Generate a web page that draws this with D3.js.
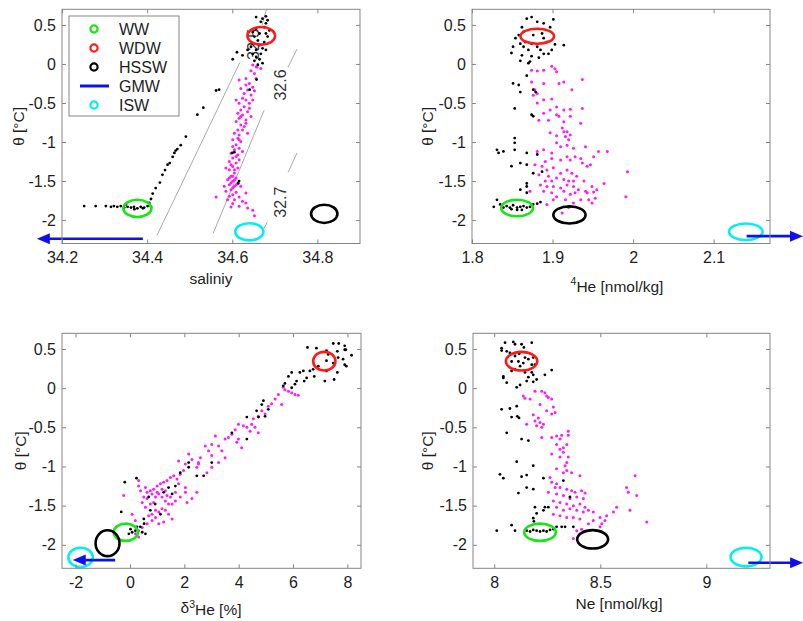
<!DOCTYPE html>
<html>
<head>
<meta charset="utf-8">
<script src="https://cdn.jsdelivr.net/npm/d3@7"></script>
<style>
  html, body { margin: 0; padding: 0; background: #fff; }
  svg { display: block; }
</style>
</head>
<body>
<svg id="fig" width="803" height="621"></svg>
<script>
// ---- shared potential temperature axis ----
const thetaDomain = [-2.3, 0.7];
const thetaTicks = [-2, -1.5, -1, -0.5, 0, 0.5];

// ---- water mass legend ----
const legendNames = ["WW", "WDW", "HSSW", "GMW", "ISW"];
const massColors = { WW: "#16e616", WDW: "#ff1a1a", HSSW: "#000000", GMW: "#1010ee", ISW: "#00f0f0" };

// ---- panel 1: salinity ----
const salDomain = [34.2, 34.9];
const salTicks = [34.2, 34.4, 34.6, 34.8];
const salBlack = [
  [34.252,-1.82],[34.279,-1.82],[34.303,-1.82],[34.315,-1.83],[34.322,-1.82],[34.330,-1.83],[34.338,-1.82],
  [34.346,-1.84],[34.354,-1.83],[34.362,-1.84],[34.369,-1.83],[34.377,-1.85],[34.385,-1.83],[34.393,-1.84],
  [34.401,-1.82],[34.409,-1.83],[34.350,-1.80],[34.370,-1.86],[34.390,-1.85],[34.405,-1.78],
  [34.409,-1.73],[34.413,-1.66],[34.420,-1.59],[34.430,-1.52],[34.436,-1.42],[34.442,-1.36],[34.448,-1.29],
  [34.453,-1.27],[34.460,-1.19],[34.464,-1.14],[34.467,-1.11],[34.471,-1.09],[34.479,-1.04],[34.491,-0.93],
  [34.518,-0.65],[34.532,-0.56],[34.562,-0.34],[34.569,-0.33],[34.601,0.06],[34.611,0.15],[34.624,0.11],[34.636,0.18],
  [34.656,0.60],[34.671,0.58],[34.679,0.61],[34.667,0.54],[34.679,0.52],[34.675,0.47],[34.656,0.45],[34.648,0.41],
  [34.664,0.39],[34.679,0.39],[34.683,0.35],[34.652,0.35],[34.660,0.30],[34.675,0.28],[34.648,0.26],[34.664,0.24],
  [34.671,0.20],[34.656,0.18],[34.644,0.22],[34.667,0.13],[34.656,0.09],[34.664,0.06],[34.652,0.04],[34.671,0.01],
  [34.660,-0.01],[34.648,0.13],[34.679,0.18],[34.687,0.43],[34.683,0.56],
  [34.605,-1.13],[34.616,-1.50],[34.614,-1.53],[34.641,-0.33],[34.657,-0.20],[34.600,-1.14]
];
const salMagenta = [
  [34.648,-0.015],[34.656,-0.036],[34.667,-0.057],[34.644,-0.087],[34.652,-0.121],[34.632,-0.185],[34.656,-0.185],
  [34.616,-0.206],[34.640,-0.249],[34.648,-0.300],[34.636,-0.334],[34.652,-0.343],[34.628,-0.377],[34.644,-0.398],
  [34.624,-0.440],[34.609,-0.462],[34.632,-0.462],[34.640,-0.504],[34.616,-0.504],[34.628,-0.547],[34.620,-0.589],
  [34.636,-0.611],[34.613,-0.632],[34.624,-0.653],[34.616,-0.696],[34.632,-0.717],[34.609,-0.738],[34.620,-0.781],
  [34.628,-0.802],[34.613,-0.845],[34.605,-0.887],[34.616,-0.909],[34.613,-0.951],[34.601,-0.972],[34.620,-0.994],
  [34.609,-1.036],[34.616,-1.079],[34.605,-1.100],[34.597,-1.143],[34.613,-1.164],[34.601,-1.206],[34.593,-1.249],
  [34.609,-1.270],[34.601,-1.313],[34.613,-1.334],[34.593,-1.355],[34.605,-1.398],[34.597,-1.440],[34.609,-1.462],
  [34.589,-1.483],[34.601,-1.504],[34.613,-1.526],[34.593,-1.547],[34.605,-1.568],[34.597,-1.611],[34.585,-1.632],
  [34.609,-1.645],[34.601,-1.674],[34.593,-1.696],[34.616,-1.704],[34.605,-1.738],[34.562,-1.704],[34.624,-1.760],
  [34.632,-1.781],[34.601,-1.789],[34.616,-1.823],[34.636,-1.845],[34.648,-1.874],[34.652,-1.943],[34.597,-1.832],
  [34.589,-1.738],[34.581,-1.568],[34.620,-1.568],[34.632,-1.653],[34.601,-1.440],[34.585,-1.334],[34.616,-1.228],
  [34.624,-1.121],[34.636,-0.887],[34.644,-0.674],[34.640,-0.568],[34.648,-0.462],[34.632,-0.270],[34.620,-0.313],
  [34.605,-1.483],[34.597,-1.526],[34.609,-1.547],[34.601,-1.590],[34.593,-1.462],[34.605,-1.355],[34.597,-1.290],
  [34.609,-1.185],[34.601,-1.057],[34.616,-0.972],[34.624,-0.845],[34.632,-0.760],[34.620,-0.674],[34.658,-0.040]
];
// end members: [name, x, theta, x-radius, theta-radius]
const salEnds = [
  ["WW", 34.377, -1.85, 0.033, 0.11],
  ["WDW", 34.668, 0.36, 0.0325, 0.113],
  ["HSSW", 34.816, -1.92, 0.031, 0.117],
  ["ISW", 34.640, -2.15, 0.033, 0.11]
];
const salArrow = [34.39, 34.141, -2.24];
// isopycnal segments (salinity, theta) and their labels
const isoSegments = [
  [[34.423,-2.197],[34.618,0.021]],
  [[34.670,0.50],[34.681,0.717]],
  [[34.555,-2.17],[34.675,-0.592]],
  [[34.731,-0.04],[34.752,0.19]],
  [[34.672,-2.13],[34.682,-2.03]],
  [[34.731,-1.39],[34.752,-1.14]]
];
const isoLabels = [["32.5", 34.649, 0.25], ["32.6", 34.714, -0.27], ["32.7", 34.714, -1.77]];

// ---- panel 2: helium-4 ----
const heDomain = [1.8, 2.17];
const heTicks = [1.8, 1.9, 2, 2.1];
const heBlack = [
  [1.868,0.58],[1.874,0.60],[1.881,0.54],[1.889,0.52],[1.901,0.57],[1.897,0.47],[1.862,0.47],[1.864,0.41],
  [1.858,0.37],[1.876,0.37],[1.887,0.39],[1.889,0.33],[1.854,0.33],[1.860,0.26],[1.866,0.28],[1.874,0.26],
  [1.881,0.22],[1.893,0.28],[1.903,0.25],[1.914,0.24],[1.851,0.22],[1.864,0.22],[1.870,0.18],[1.885,0.18],
  [1.889,0.13],[1.895,0.13],[1.899,0.18],[1.849,0.14],[1.862,0.11],[1.874,0.10],[1.883,0.08],[1.872,0.03],
  [1.870,0.01],[1.860,0.04],
  [1.868,-0.15],[1.858,-0.27],[1.851,-0.25],[1.860,-0.36],[1.876,-0.33],[1.879,-0.36],[1.853,-0.57],[1.874,-0.65],
  [1.876,-0.67],[1.853,-0.95],[1.853,-1.01],[1.853,-1.10],[1.831,-1.10],[1.833,-1.14],[1.839,-1.12],[1.868,-1.14],
  [1.881,-1.16],[1.860,-1.27],[1.868,-1.29],[1.849,-1.31],[1.876,-1.40],[1.887,-1.38],[1.868,-1.53],[1.868,-1.57],
  [1.860,-1.61],[1.868,-1.65],[1.831,-1.74],
  [1.827,-1.83],[1.835,-1.80],[1.839,-1.84],[1.843,-1.82],[1.847,-1.84],[1.851,-1.81],[1.856,-1.84],[1.860,-1.83],
  [1.864,-1.82],[1.868,-1.84],[1.872,-1.83],[1.876,-1.80],[1.881,-1.79],[1.885,-1.77],[1.856,-1.87],[1.862,-1.87],
  [1.849,-1.86]
];
const heMagenta = [
  [1.874,-0.08],[1.881,-0.09],[1.889,-0.08],[1.899,-0.03],[1.903,-0.06],[1.905,-0.10],[1.874,-0.23],[1.889,-0.25],
  [1.908,-0.25],[1.914,-0.23],[1.924,-0.33],[1.937,-0.20],[1.878,-0.33],[1.881,-0.38],[1.876,-0.40],[1.889,-0.46],
  [1.899,-0.45],[1.881,-0.50],[1.897,-0.59],[1.905,-0.55],[1.914,-0.59],[1.922,-0.58],[1.937,-0.57],[1.889,-0.63],
  [1.905,-0.65],[1.908,-0.67],[1.922,-0.67],[1.883,-0.72],[1.895,-0.72],[1.914,-0.74],[1.912,-0.82],[1.935,-0.76],
  [1.897,-0.88],[1.914,-0.87],[1.918,-0.87],[1.916,-0.93],[1.922,-0.91],[1.905,-0.92],[1.918,-1.04],[1.910,-1.06],
  [1.920,-0.97],[1.881,-1.12],[1.889,-1.10],[1.899,-1.14],[1.905,-1.01],[1.918,-1.19],[1.926,-1.08],[1.941,-1.06],
  [1.935,-1.21],[1.957,-1.12],[1.951,-1.19],[1.968,-1.12],[1.928,-1.19],[1.922,-1.23],[1.910,-1.23],[1.899,-1.21],
  [1.891,-1.25],[1.887,-1.31],[1.878,-1.29],[1.893,-1.36],[1.901,-1.33],[1.910,-1.40],[1.918,-1.36],[1.924,-1.40],
  [1.930,-1.44],[1.937,-1.27],[1.943,-1.31],[1.947,-1.29],[1.895,-1.44],[1.899,-1.50],[1.905,-1.46],[1.914,-1.48],
  [1.920,-1.50],[1.926,-1.50],[1.891,-1.50],[1.885,-1.55],[1.893,-1.57],[1.901,-1.57],[1.910,-1.59],[1.918,-1.55],
  [1.926,-1.57],[1.932,-1.61],[1.939,-1.50],[1.949,-1.57],[1.964,-1.53],[1.955,-1.61],[1.941,-1.63],[1.889,-1.63],
  [1.899,-1.65],[1.905,-1.70],[1.914,-1.63],[1.922,-1.67],[1.928,-1.65],[1.943,-1.65],[1.951,-1.64],[1.945,-1.74],
  [1.953,-1.72],[1.901,-1.74],[1.916,-1.74],[1.926,-1.78],[1.935,-1.74],[1.949,-1.78],[1.993,-1.38],[1.991,-1.70],
  [1.920,-1.84],[1.912,-1.91],[1.872,-1.63],[1.883,-1.42],[1.893,-1.80]
];
const heEnds = [
  ["WW", 1.856, -1.845, 0.0197, 0.106],
  ["WDW", 1.881, 0.355, 0.0208, 0.096],
  ["HSSW", 1.921, -1.934, 0.020, 0.11],
  ["ISW", 2.140, -2.15, 0.0208, 0.106]
];
const heArrow = [2.141, 2.211, -2.206];

// ---- panel 3: delta helium-3 ----
const d3HeDomain = [-2.5, 8.5];
const d3HeTicks = [-2, 0, 2, 4, 6, 8];
const d3HeBlack = [
  [6.53,0.52],[7.48,0.57],[7.68,0.57],[7.90,0.54],[7.94,0.49],[8.15,0.42],[7.63,0.47],[7.29,0.43],[7.23,0.35],
  [7.48,0.32],[7.66,0.39],[7.84,0.37],[7.96,0.28],[7.90,0.30],[7.63,0.20],[7.51,0.11],[7.23,0.22],[7.17,0.09],
  [6.93,0.28],[6.74,0.24],[6.62,0.22],[6.78,0.15],[6.50,0.13],[6.38,0.22],[6.25,0.20],[6.41,0.09],[6.13,0.09],
  [6.07,0.05],[5.95,0.005],[5.70,0.06],[5.64,0.03],[5.83,0.15],[5.95,0.20],[7.90,0.49],[6.86,0.51],[7.23,0.48],
  [4.91,-0.16],[4.85,-0.21],[5.09,-0.27],[4.66,-0.29],[4.97,-0.36],[4.73,-0.37],[4.30,-0.37],[4.30,-0.65],
  [3.75,-0.57],[3.01,-0.95],[2.71,-1.12],[2.46,-1.12],[2.16,-1.01],[2.16,-0.95],[1.85,-1.08],[1.67,-1.25],
  [1.55,-1.35],[1.42,-1.27],[1.24,-1.33],[1.12,-1.61],[0.93,-1.48],[0.75,-1.56],[0.69,-1.39],[0.51,-1.67],
  [0.26,-1.77],[0.20,-1.82],[0.45,-1.84],[0.57,-1.86],[0.02,-1.80],[0.38,-1.77],[-0.19,-1.20],[0.24,-1.15],
  [-0.32,-1.58],[0.52,-1.73],[-0.04,-1.86],[0.08,-1.84]
];
const d3HeMagenta = [
  [5.64,0.01],[5.83,-0.04],[5.95,-0.06],[6.07,-0.08],[6.19,-0.09],[5.70,-0.02],[5.46,-0.08],[5.34,-0.14],
  [5.58,-0.21],[5.21,-0.20],[5.09,-0.23],[4.97,-0.33],[4.85,-0.29],[4.72,-0.36],[4.54,-0.39],[4.48,-0.46],
  [4.60,-0.50],[4.72,-0.57],[4.42,-0.55],[4.30,-0.50],[4.17,-0.48],[3.99,-0.46],[3.87,-0.53],[3.75,-0.59],
  [3.99,-0.65],[4.11,-0.76],[3.93,-0.69],[3.62,-0.63],[3.50,-0.65],[3.14,-0.61],[3.01,-0.72],[3.26,-0.74],
  [3.38,-0.80],[3.50,-0.89],[3.01,-0.86],[2.89,-0.80],[2.77,-0.74],[2.59,-0.89],[2.52,-0.97],[2.46,-1.01],
  [2.28,-0.91],[2.16,-0.84],[2.04,-0.97],[1.97,-1.05],[1.79,-0.93],[1.85,-1.10],[1.73,-1.16],[1.61,-1.12],
  [1.49,-1.14],[1.36,-1.18],[1.24,-1.20],[1.12,-1.22],[1.00,-1.25],[0.87,-1.29],[0.75,-1.31],[0.63,-1.33],
  [0.57,-1.27],[0.32,-1.18],[0.32,-1.25],[0.39,-1.31],[0.51,-1.39],[0.63,-1.41],[0.81,-1.35],[0.94,-1.39],
  [1.06,-1.35],[1.18,-1.39],[1.30,-1.44],[1.42,-1.48],[1.55,-1.48],[1.67,-1.44],[1.85,-1.39],[2.10,-1.46],
  [2.28,-1.41],[2.46,-1.33],[2.04,-1.27],[1.79,-1.22],[1.30,-1.31],[0.94,-1.56],[0.81,-1.61],[0.69,-1.63],
  [0.57,-1.52],[0.94,-1.65],[1.06,-1.58],[1.18,-1.54],[1.30,-1.56],[1.42,-1.61],[1.55,-1.67],[1.24,-1.71],
  [1.06,-1.73],[0.81,-1.69],[0.63,-1.73],[0.45,-1.78],[0.32,-1.82],[0.20,-1.86],[0.32,-1.90],[-0.23,-1.37],
  [0.08,-1.61],[0.20,-1.69],[1.49,-1.39],[1.67,-1.33],[1.18,-1.29],[3.01,-1.01],[3.26,-0.95],[2.52,-0.95],
  [2.83,-1.08],[0.75,-1.48],[0.87,-1.46],[1.36,-1.37],[1.00,-1.33],[0.45,-1.46],[2.04,-1.33]
];
const d3HeEnds = [
  ["WW", -0.153, -1.84, 0.446, 0.11],
  ["WDW", 7.15, 0.344, 0.41, 0.119],
  ["HSSW", -0.825, -1.98, 0.44, 0.165],
  ["ISW", -1.816, -2.16, 0.45, 0.123]
];
const d3HeArrow = [-0.544, -2.105, -2.195];

// ---- panel 4: neon ----
const neDomain = [7.9, 9.3];
const neTicks = [8, 8.5, 9];
const neBlack = [
  [8.035,0.51],[8.051,0.58],[8.090,0.59],[8.098,0.56],[8.129,0.56],[8.140,0.52],[8.177,0.58],[8.035,0.48],
  [8.059,0.47],[8.074,0.45],[8.098,0.41],[8.118,0.44],[8.145,0.39],[8.161,0.37],[8.184,0.39],[8.082,0.34],
  [8.114,0.34],[8.137,0.32],[8.177,0.30],[8.192,0.30],[8.098,0.24],[8.122,0.28],[8.082,0.22],[8.043,0.15],
  [8.145,0.20],[8.177,0.20],[8.184,0.17],[8.161,0.14],[8.200,0.11],[8.184,0.08],[8.153,0.09],[8.122,0.04],
  [8.106,0.01],[8.271,0.23],[8.239,0.17],[8.059,0.07],[8.043,0.13],
  [8.074,-0.26],[8.035,-0.27],[8.106,-0.23],[8.082,-0.37],[8.109,-0.36],[8.117,-0.38],[8.059,-0.57],[8.129,-0.65],
  [8.161,-0.67],[8.106,-0.94],[8.184,-0.99],[8.027,-1.10],[8.043,-1.15],[8.129,-1.13],[8.153,-1.11],[8.232,-1.15],
  [8.326,-1.18],[8.153,-1.27],[8.184,-1.29],[8.114,-1.34],[8.357,-1.39],[8.192,-1.52],[8.239,-1.52],[8.200,-1.60],
  [8.232,-1.56],[8.255,-1.52],[8.184,-1.66],[8.187,-1.70],
  [8.012,-1.82],[8.082,-1.75],[8.098,-1.82],[8.153,-1.82],[8.169,-1.83],[8.184,-1.81],[8.200,-1.82],[8.216,-1.83],
  [8.232,-1.82],[8.247,-1.83],[8.263,-1.81],[8.279,-1.80],[8.294,-1.77],[8.318,-1.77],[8.334,-1.77],[8.373,-1.77]
];
const neMagenta = [
  [8.137,-0.10],[8.145,-0.13],[8.169,-0.14],[8.192,-0.04],[8.224,-0.04],[8.239,-0.06],[8.247,-0.10],[8.271,-0.14],
  [8.255,-0.12],[8.216,-0.21],[8.279,-0.24],[8.247,-0.29],[8.271,-0.33],[8.287,-0.31],[8.184,-0.34],[8.208,-0.38],
  [8.192,-0.42],[8.216,-0.44],[8.232,-0.46],[8.200,-0.48],[8.224,-0.50],[8.153,-0.46],[8.224,-0.63],[8.271,-0.63],
  [8.294,-0.61],[8.318,-0.60],[8.310,-0.65],[8.349,-0.55],[8.349,-0.60],[8.342,-0.72],[8.326,-0.76],[8.294,-0.72],
  [8.310,-0.78],[8.271,-0.84],[8.326,-0.82],[8.310,-0.88],[8.349,-0.88],[8.342,-0.95],[8.334,-0.99],[8.294,-1.03],
  [8.326,-1.08],[8.342,-1.05],[8.365,-1.08],[8.404,-1.12],[8.294,-1.22],[8.263,-1.14],[8.271,-1.20],[8.287,-1.27],
  [8.310,-1.27],[8.342,-1.29],[8.365,-1.31],[8.381,-1.33],[8.412,-1.31],[8.428,-1.34],[8.255,-1.33],[8.294,-1.35],
  [8.326,-1.37],[8.357,-1.41],[8.389,-1.39],[8.420,-1.41],[8.279,-1.44],[8.310,-1.46],[8.342,-1.48],[8.373,-1.50],
  [8.404,-1.48],[8.428,-1.52],[8.294,-1.52],[8.326,-1.56],[8.357,-1.54],[8.389,-1.56],[8.420,-1.58],[8.444,-1.56],
  [8.467,-1.58],[8.499,-1.65],[8.530,-1.63],[8.522,-1.69],[8.507,-1.73],[8.444,-1.73],[8.404,-1.67],[8.373,-1.65],
  [8.310,-1.63],[8.279,-1.61],[8.342,-1.65],[8.467,-1.69],[8.499,-1.77],[8.577,-1.52],[8.562,-1.58],[8.632,-1.33],
  [8.672,-1.37],[8.664,-1.12],[8.624,-1.27],[8.640,-1.56],[8.719,-1.71],[8.373,-1.92],[8.389,-1.82],[8.412,-1.80]
];
const neEnds = [
  ["WW", 8.216, -1.84, 0.0746, 0.11],
  ["WDW", 8.129, 0.344, 0.074, 0.119],
  ["HSSW", 8.464, -1.93, 0.073, 0.117],
  ["ISW", 9.187, -2.156, 0.073, 0.119]
];
const neArrow = [9.198, 9.456, -2.23];

// ---- drawing ----
const FONT = "'Liberation Sans', Arial, Helvetica, sans-serif";
const svg = d3.select("#fig");

const panels = [
  { id: "p1", left: 62, top: 9.3, width: 298, height: 234.2, xDomain: salDomain, xTicks: salTicks,
    black: salBlack, magenta: salMagenta, ends: salEnds, arrow: salArrow,
    xLabel: [["saliniy"]], xLabelPos: [211, 284], yLabelX: 18 },
  { id: "p2", left: 472, top: 9.3, width: 298, height: 234.2, xDomain: heDomain, xTicks: heTicks,
    black: heBlack, magenta: heMagenta, ends: heEnds, arrow: heArrow,
    xLabel: [["4", "sup"], ["He [nmol/kg]"]], xLabelPos: [617, 290], yLabelX: 427 },
  { id: "p3", left: 62, top: 333.3, width: 299, height: 235, xDomain: d3HeDomain, xTicks: d3HeTicks,
    black: d3HeBlack, magenta: d3HeMagenta, ends: d3HeEnds, arrow: d3HeArrow,
    xLabel: [["δ"], ["3", "sup"], ["He [%]"]], xLabelPos: [211, 613], yLabelX: 20 },
  { id: "p4", left: 473, top: 333.3, width: 297, height: 235, xDomain: neDomain, xTicks: neTicks,
    black: neBlack, magenta: neMagenta, ends: neEnds, arrow: neArrow,
    xLabel: [["Ne [nmol/kg]"]], xLabelPos: [619, 609], yLabelX: 427 }
];

const defs = svg.append("defs");
const AXIS_GRAY = "#858585";
const TEXT_COL = "#1e1e1e";
const TICK_FS = 16;
const LABEL_FS = 15.5;

function styleAxis(g, showText) {
  g.select(".domain").remove();
  g.selectAll(".tick line").attr("stroke", AXIS_GRAY).attr("stroke-width", 1);
  if (showText) {
    g.selectAll(".tick text").attr("fill", TEXT_COL).style("font-family", FONT).style("font-size", TICK_FS + "px");
  } else {
    g.selectAll(".tick text").remove();
  }
}

function drawArrow(g, x1, x2, yv, color) {
  const dir = Math.sign(x2 - x1);
  const headLen = 13, headHalf = 5.5;
  g.append("line")
    .attr("x1", x1).attr("x2", x2 - dir * headLen * 0.8).attr("y1", yv).attr("y2", yv)
    .attr("stroke", color).attr("stroke-width", 2.6);
  g.append("path")
    .attr("d", `M${x2},${yv} L${x2 - dir * headLen},${yv - headHalf} L${x2 - dir * headLen},${yv + headHalf} Z`)
    .attr("fill", color);
}

panels.forEach(p => {
  const x = d3.scaleLinear().domain(p.xDomain).range([p.left, p.left + p.width]);
  const y = d3.scaleLinear().domain(thetaDomain).range([p.top + p.height, p.top]);
  const g = svg.append("g").attr("class", p.id);

  defs.append("clipPath").attr("id", "clip-" + p.id)
    .append("rect").attr("x", p.left).attr("y", p.top).attr("width", p.width).attr("height", p.height);
  const inner = g.append("g").attr("clip-path", `url(#clip-${p.id})`);

  // density contours only on the salinity panel
  if (p.id === "p1") {
    const line = d3.line().x(d => x(d[0])).y(d => y(d[1]));
    inner.selectAll("path.iso").data(isoSegments).join("path")
      .attr("class", "iso").attr("d", line)
      .attr("fill", "none").attr("stroke", "#a0a0a0").attr("stroke-width", 0.9);
    inner.selectAll("text.iso").data(isoLabels).join("text")
      .attr("class", "iso")
      .attr("transform", d => `translate(${x(d[1])},${y(d[2])}) rotate(-90)`)
      .attr("text-anchor", "middle").attr("dominant-baseline", "central")
      .attr("fill", "#333").style("font-family", FONT).style("font-size", "16px")
      .text(d => d[0]);
  }

  inner.selectAll("circle.m").data(p.magenta).join("circle")
    .attr("class", "m").attr("cx", d => x(d[0])).attr("cy", d => y(d[1]))
    .attr("r", 1.5).attr("fill", "#ff1aff");
  inner.selectAll("circle.k").data(p.black).join("circle")
    .attr("class", "k").attr("cx", d => x(d[0])).attr("cy", d => y(d[1]))
    .attr("r", 1.4).attr("fill", "#000");

  // source water type ellipses
  g.selectAll("ellipse.end").data(p.ends).join("ellipse")
    .attr("class", "end")
    .attr("cx", d => x(d[1])).attr("cy", d => y(d[2]))
    .attr("rx", d => Math.abs(x(d[1] + d[3]) - x(d[1])))
    .attr("ry", d => Math.abs(y(d[2] + d[4]) - y(d[2])))
    .attr("fill", "none").attr("stroke", d => massColors[d[0]]).attr("stroke-width", 2.6);

  // glacial melt water direction arrow
  drawArrow(g, x(p.arrow[0]), x(p.arrow[1]), y(p.arrow[2]), massColors.GMW);

  // axes with inward ticks on all four sides
  const bottom = p.top + p.height, right = p.left + p.width;
  g.append("g").attr("transform", `translate(0,${bottom})`)
    .call(d3.axisBottom(x).tickValues(p.xTicks).tickFormat(d => String(d)).tickSize(-4).tickPadding(8))
    .call(a => styleAxis(a, true));
  g.append("g").attr("transform", `translate(0,${p.top})`)
    .call(d3.axisTop(x).tickValues(p.xTicks).tickSize(-4))
    .call(a => styleAxis(a, false));
  g.append("g").attr("transform", `translate(${p.left},0)`)
    .call(d3.axisLeft(y).tickValues(thetaTicks).tickFormat(d => String(d)).tickSize(-4).tickPadding(6))
    .call(a => styleAxis(a, true));
  g.append("g").attr("transform", `translate(${right},0)`)
    .call(d3.axisRight(y).tickValues(thetaTicks).tickSize(-4))
    .call(a => styleAxis(a, false));
  g.append("rect")
    .attr("x", p.left).attr("y", p.top).attr("width", p.width).attr("height", p.height)
    .attr("fill", "none").attr("stroke", AXIS_GRAY).attr("stroke-width", 1);

  // x axis label, with superscript pieces raised
  const xl = g.append("text")
    .attr("x", p.xLabelPos[0]).attr("y", p.xLabelPos[1])
    .attr("text-anchor", "middle").attr("fill", TEXT_COL)
    .style("font-family", FONT).style("font-size", LABEL_FS + "px");
  let raised = false;
  p.xLabel.forEach(part => {
    const t = xl.append("tspan").text(part[0]);
    if (part[1] === "sup") { t.attr("dy", "-0.45em").style("font-size", "10.5px"); raised = true; }
    else if (raised) { t.attr("dy", "0.45em"); raised = false; }
  });
  // y axis label
  g.append("text")
    .attr("transform", `translate(${p.yLabelX},${p.top + p.height / 2}) rotate(-90)`)
    .attr("text-anchor", "middle").attr("dominant-baseline", "central")
    .attr("fill", TEXT_COL).style("font-family", FONT).style("font-size", LABEL_FS + "px")
    .text("θ [°C]");
});

// legend on the salinity panel
const lg = svg.append("g").attr("class", "legend");
lg.append("rect").attr("x", 69).attr("y", 16).attr("width", 110).attr("height", 100)
  .attr("fill", "#fff").attr("stroke", AXIS_GRAY).attr("stroke-width", 1);
legendNames.forEach((name, i) => {
  const cy = 29 + i * 19;
  if (name === "GMW") {
    lg.append("line").attr("x1", 80).attr("x2", 109).attr("y1", cy).attr("y2", cy)
      .attr("stroke", massColors[name]).attr("stroke-width", 3);
  } else {
    lg.append("circle").attr("cx", 94).attr("cy", cy).attr("r", 3.6)
      .attr("fill", "none").attr("stroke", massColors[name]).attr("stroke-width", 2.2);
  }
  lg.append("text").attr("x", 119).attr("y", cy).attr("dominant-baseline", "central")
    .attr("fill", TEXT_COL).style("font-family", FONT).style("font-size", "16px")
    .text(name);
});
</script>
</body>
</html>
